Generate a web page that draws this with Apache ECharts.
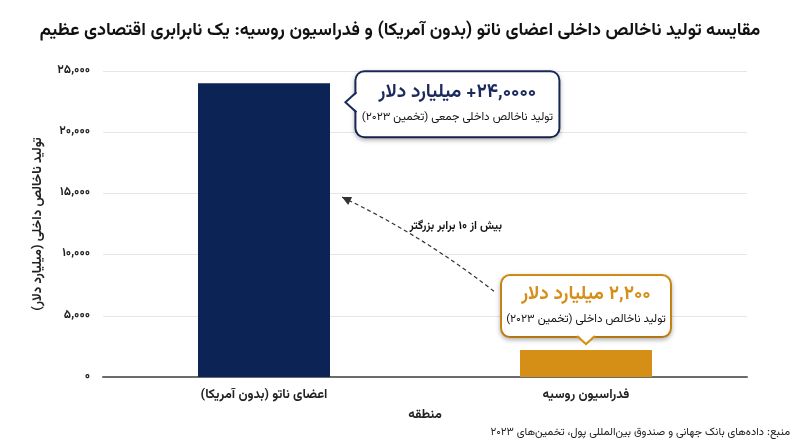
<!DOCTYPE html>
<html dir="rtl">
<head>
<meta charset="utf-8">
<script src="https://cdn.jsdelivr.net/npm/echarts@6/dist/echarts.min.js"></script>
<style>
  html, body { margin: 0; padding: 0; background: #fff; }
  #main { width: 800px; height: 447px; }
</style>
</head>
<body>
<div id="main"></div>
<script>
// داده‌ها
const categories = ['اعضای ناتو (بدون آمریکا)', 'فدراسیون روسیه'];
const gdpValues = [24000, 2200];
const barColors = ['#0c2356', '#d58f17'];
const calloutBig = ['۲۴,۰۰۰۰+ میلیارد دلار', '۲,۲۰۰ میلیارد دلار'];
const calloutSmall = ['تولید ناخالص داخلی جمعی (تخمین ۲۰۲۳)', 'تولید ناخالص داخلی (تخمین ۲۰۲۳)'];
const yMax = 25000;
const yStep = 5000;

const FONT = "'Vazirmatn','Noto Sans Arabic','DejaVu Sans',sans-serif";
const NAVY = '#1b2a5c';
const GOLD = '#d58f17';

function faDigits(s) {
  return String(s).replace(/\d/g, d => '۰۱۲۳۴۵۶۷۸۹'[d]);
}

const chart = echarts.init(document.getElementById('main'));

const option = {
  animation: false,
  textStyle: { fontFamily: FONT },
  title: {
    text: 'مقایسه تولید ناخالص داخلی اعضای ناتو (بدون آمریکا) و فدراسیون روسیه: یک نابرابری اقتصادی عظیم',
    left: 'center',
    top: 18,
    textStyle: { fontSize: 18, fontWeight: 'bold', color: '#111', fontFamily: FONT }
  },
  grid: { left: 103, right: 53, top: 71, bottom: 70 },
  xAxis: {
    type: 'category',
    data: categories,
    name: 'منطقه',
    nameLocation: 'middle',
    nameGap: 32,
    nameTextStyle: { fontSize: 13, fontWeight: 'bold', color: '#222' },
    axisLine: { lineStyle: { color: '#6b6b6b', width: 2 } },
    axisTick: { show: false },
    axisLabel: { fontSize: 13, fontWeight: 'bold', color: '#222', margin: 12 }
  },
  yAxis: {
    type: 'value',
    min: 0,
    max: yMax,
    interval: yStep,
    name: 'تولید ناخالص داخلی (میلیارد دلار)',
    nameLocation: 'middle',
    nameGap: 58,
    nameTextStyle: { fontSize: 13, fontWeight: 'bold', color: '#222' },
    axisLine: { show: false },
    axisTick: { show: false },
    axisLabel: {
      fontSize: 12, fontWeight: 'bold', color: '#222', margin: 13,
      formatter: v => faDigits(v.toLocaleString('en-US'))
    },
    splitLine: { lineStyle: { color: '#e6e6e6', width: 1 } }
  },
  series: [{
    type: 'bar',
    barWidth: '41%',
    data: gdpValues.map((v, i) => ({
      value: v,
      itemStyle: { color: barColors[i] },
      label: {
        show: true,
        position: i === 0 ? ['120%', -11] : 'top',
        distance: 14,
        width: i === 0 ? 178 : 148,
        formatter: '{big|' + calloutBig[i] + '}\n{small|' + calloutSmall[i] + '}',
        backgroundColor: '#fff',
        borderColor: i === 0 ? NAVY : GOLD,
        borderWidth: 2,
        borderRadius: 8,
        padding: i === 0 ? [8, 12, 8, 12] : [6, 10, 6, 10],
        shadowColor: 'rgba(0,0,0,0.25)',
        shadowBlur: 5,
        shadowOffsetY: 2,
        align: i === 0 ? 'left' : 'center',
        rich: {
          big: { fontSize: 19, fontWeight: 'bold', color: i === 0 ? NAVY : GOLD, lineHeight: 28, align: 'center', fontFamily: FONT },
          small: { fontSize: 11.5, color: '#111', lineHeight: 20, align: 'center', fontFamily: FONT }
        }
      }
    }))
  }]
};

chart.setOption(option);

// پیکان‌ها و نشانگرهای برچسب
const natoTop = chart.convertToPixel({ seriesIndex: 0 }, [0, gdpValues[0]]);
const rusTop = chart.convertToPixel({ seriesIndex: 0 }, [1, gdpValues[1]]);
const bandW = rusTop[0] - natoTop[0];
const barHalf = bandW * 0.41 / 2;

const natoBoxLeft = natoTop[0] + barHalf + barHalf * 2 * 0.20;
const natoPtrY = natoTop[1] + 19;
const rusBoxBottom = rusTop[1] - 14;

const arrowEnd = chart.convertToPixel({ seriesIndex: 0 }, [0, 14700]);
const arrowStart = chart.convertToPixel({ seriesIndex: 0 }, [1, 7000]);
const ax = arrowEnd[0] + barHalf + 12, ay = arrowEnd[1];
const bx = arrowStart[0] - 92, by = arrowStart[1];
const cx = (ax + bx) / 2 + 4, cy = (ay + by) / 2 - 9;
// جهت سر پیکان از مماس منحنی در نقطه پایان
const tx = ax - cx, ty = ay - cy;
const tl = Math.hypot(tx, ty);
const ux = tx / tl, uy = ty / tl;
const head = [
  [ax, ay],
  [ax - ux * 9 - uy * 4.5, ay - uy * 9 + ux * 4.5],
  [ax - ux * 9 + uy * 4.5, ay - uy * 9 - ux * 4.5]
];

chart.setOption({
  graphic: [
    {
      type: 'polygon', z: 100,
      shape: { points: [[natoBoxLeft + 2, natoPtrY - 10], [natoBoxLeft - 11, natoPtrY], [natoBoxLeft + 2, natoPtrY + 10]] },
      style: { fill: '#fff' }
    },
    {
      type: 'polyline', z: 101,
      shape: { points: [[natoBoxLeft, natoPtrY - 10], [natoBoxLeft - 11, natoPtrY], [natoBoxLeft, natoPtrY + 10]] },
      style: { stroke: NAVY, lineWidth: 2, fill: null }
    },
    {
      type: 'polygon', z: 100,
      shape: { points: [[rusTop[0] - 9, rusBoxBottom - 2], [rusTop[0], rusBoxBottom + 8], [rusTop[0] + 9, rusBoxBottom - 2]] },
      style: { fill: '#fff' }
    },
    {
      type: 'polyline', z: 101,
      shape: { points: [[rusTop[0] - 9, rusBoxBottom], [rusTop[0], rusBoxBottom + 8], [rusTop[0] + 9, rusBoxBottom]] },
      style: { stroke: GOLD, lineWidth: 2, fill: null }
    },
    {
      type: 'bezierCurve', z: 50,
      shape: { x1: bx, y1: by, x2: ax, y2: ay, cpx1: cx, cpy1: cy },
      style: { stroke: '#333', lineWidth: 1.2, lineDash: [4, 3], fill: null }
    },
    {
      type: 'polygon', z: 50,
      shape: { points: head },
      style: { fill: '#333' }
    },
    {
      type: 'text', z: 50,
      x: bx + 8, y: ay + 30,
      style: {
        text: 'بیش از ۱۰ برابر بزرگتر',
        align: 'right', verticalAlign: 'middle',
        font: 'bold 11.5px ' + FONT, fill: '#111'
      }
    },
    {
      type: 'text',
      right: 10, bottom: 8,
      style: {
        text: 'منبع: داده‌های بانک جهانی و صندوق بین‌المللی پول، تخمین‌های ۲۰۲۳',
        font: '11px ' + FONT, fill: '#222'
      }
    }
  ]
});
</script>
</body>
</html>
